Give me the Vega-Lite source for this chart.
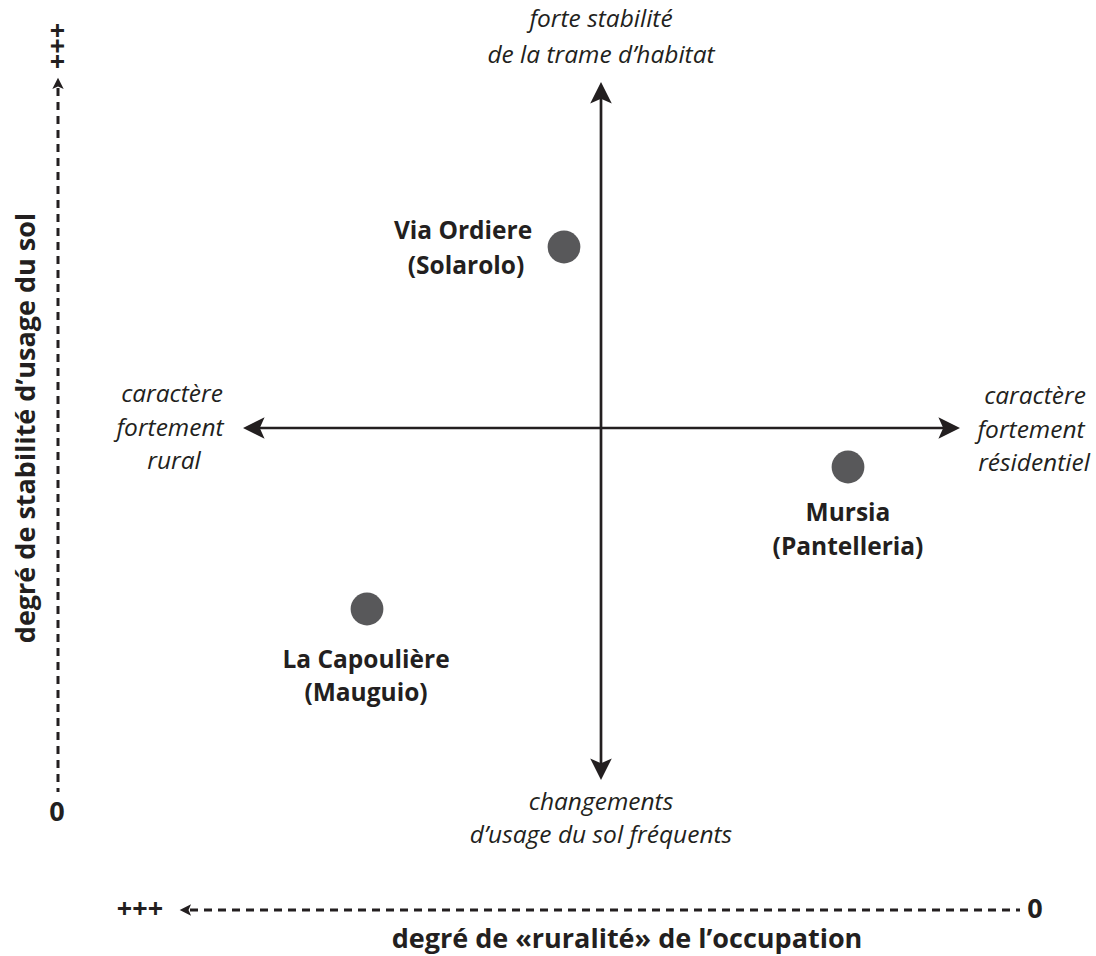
{
  "$schema": "https://vega.github.io/schema/vega-lite/v6.json",
  "width": 1096,
  "height": 956,
  "autosize": {"type": "fit", "contains": "padding"},
  "padding": 0,
  "background": "white",
  "config": {"view": {"stroke": null}},
  "datasets": {
    "axes": [
      {"kind": "solid", "x": 601, "y": 96, "x2": 601, "y2": 766},
      {"kind": "solid", "x": 257, "y": 428, "x2": 946, "y2": 428},
      {"kind": "dashed", "x": 58, "y": 88, "x2": 58, "y2": 792},
      {"kind": "dashed", "x": 190, "y": 910, "x2": 1020, "y2": 910}
    ],
    "heads": [
      {"kind": "solid", "dir": "up", "x": 601, "y": 94},
      {"kind": "solid", "dir": "down", "x": 601, "y": 768},
      {"kind": "solid", "dir": "left", "x": 255, "y": 428},
      {"kind": "solid", "dir": "right", "x": 948, "y": 428},
      {"kind": "dashed", "dir": "up", "x": 58, "y": 84},
      {"kind": "dashed", "dir": "left", "x": 186, "y": 910}
    ],
    "sites": [
      {"site": "Via Ordiere (Solarolo)", "x": 564, "y": 247},
      {"site": "Mursia (Pantelleria)", "x": 848, "y": 467},
      {"site": "La Capoulière (Mauguio)", "x": 367, "y": 609}
    ],
    "siteLabels": [
      {"text": "Via Ordiere", "x": 463, "y": 232},
      {"text": "(Solarolo)", "x": 466, "y": 267},
      {"text": "Mursia", "x": 848, "y": 514},
      {"text": "(Pantelleria)", "x": 848, "y": 548},
      {"text": "La Capoulière", "x": 366, "y": 661},
      {"text": "(Mauguio)", "x": 366, "y": 694}
    ],
    "poles": [
      {"text": "forte stabilité", "x": 601, "y": 20},
      {"text": "de la trame d’habitat", "x": 601, "y": 56},
      {"text": "changements", "x": 601, "y": 803},
      {"text": "d’usage du sol fréquents", "x": 601, "y": 836},
      {"text": "caractère", "x": 172, "y": 395},
      {"text": "fortement", "x": 170, "y": 429},
      {"text": "rural", "x": 174, "y": 462},
      {"text": "caractère", "x": 1035, "y": 397},
      {"text": "fortement", "x": 1031, "y": 431},
      {"text": "résidentiel", "x": 1034, "y": 464}
    ],
    "axisText": [
      {"text": "0", "x": 57, "y": 813},
      {"text": "+++", "x": 140, "y": 910},
      {"text": "0", "x": 1035, "y": 910},
      {"text": "degré de «ruralité» de l’occupation", "x": 627, "y": 940}
    ],
    "axisTextRot": [
      {"text": "+++", "x": 59, "y": 46},
      {"text": "degré de stabilité d’usage du sol", "x": 27, "y": 428}
    ]
  },
  "encoding": {
    "x": {"field": "x", "type": "quantitative", "scale": {"domain": [0, 1096], "nice": false, "zero": false}, "axis": null},
    "y": {"field": "y", "type": "quantitative", "scale": {"domain": [0, 956], "reverse": true, "nice": false, "zero": false}, "axis": null}
  },
  "layer": [
    {
      "data": {"name": "axes"},
      "transform": [{"filter": "datum.kind === 'solid'"}],
      "mark": {"type": "rule", "color": "#231f20", "strokeWidth": 2.7},
      "encoding": {"x2": {"field": "x2"}, "y2": {"field": "y2"}}
    },
    {
      "data": {"name": "axes"},
      "transform": [{"filter": "datum.kind === 'dashed'"}],
      "mark": {"type": "rule", "color": "#231f20", "strokeWidth": 3, "strokeDash": [8, 6]},
      "encoding": {"x2": {"field": "x2"}, "y2": {"field": "y2"}}
    },
    {
      "data": {"name": "heads"},
      "mark": {"type": "point", "filled": true, "opacity": 1, "color": "#231f20", "strokeWidth": 0},
      "encoding": {
        "shape": {"field": "dir", "type": "nominal", "legend": null, "scale": {"domain": ["up", "down", "left", "right"], "range": ["M0,-1L0.9,0.8L0,0.4L-0.9,0.8Z", "M0,1L0.9,-0.8L0,-0.4L-0.9,-0.8Z", "M-1,0L0.8,-0.9L0.4,0L0.8,0.9Z", "M1,0L-0.8,-0.9L-0.4,0L-0.8,0.9Z"]}},
        "size": {"field": "kind", "type": "nominal", "legend": null, "scale": {"domain": ["solid", "dashed"], "range": [576, 160]}}
      }
    },
    {
      "data": {"name": "sites"},
      "mark": {"type": "circle", "size": 1075, "color": "#58585a", "opacity": 1}
    },
    {
      "data": {"name": "siteLabels"},
      "mark": {"type": "text", "font": "Open Sans", "fontWeight": "bold", "fontSize": 24.5, "color": "#231f20", "align": "center", "baseline": "middle"},
      "encoding": {"text": {"field": "text"}}
    },
    {
      "data": {"name": "poles"},
      "mark": {"type": "text", "font": "Open Sans", "fontStyle": "italic", "fontSize": 24.5, "color": "#231f20", "align": "center", "baseline": "middle"},
      "encoding": {"text": {"field": "text"}}
    },
    {
      "data": {"name": "axisText"},
      "mark": {"type": "text", "font": "Open Sans", "fontWeight": "bold", "fontSize": 27, "color": "#231f20", "align": "center", "baseline": "middle"},
      "encoding": {"text": {"field": "text"}}
    },
    {
      "data": {"name": "axisTextRot"},
      "mark": {"type": "text", "font": "Open Sans", "fontWeight": "bold", "fontSize": 27, "angle": 270, "color": "#231f20", "align": "center", "baseline": "middle"},
      "encoding": {"text": {"field": "text"}}
    }
  ]
}
